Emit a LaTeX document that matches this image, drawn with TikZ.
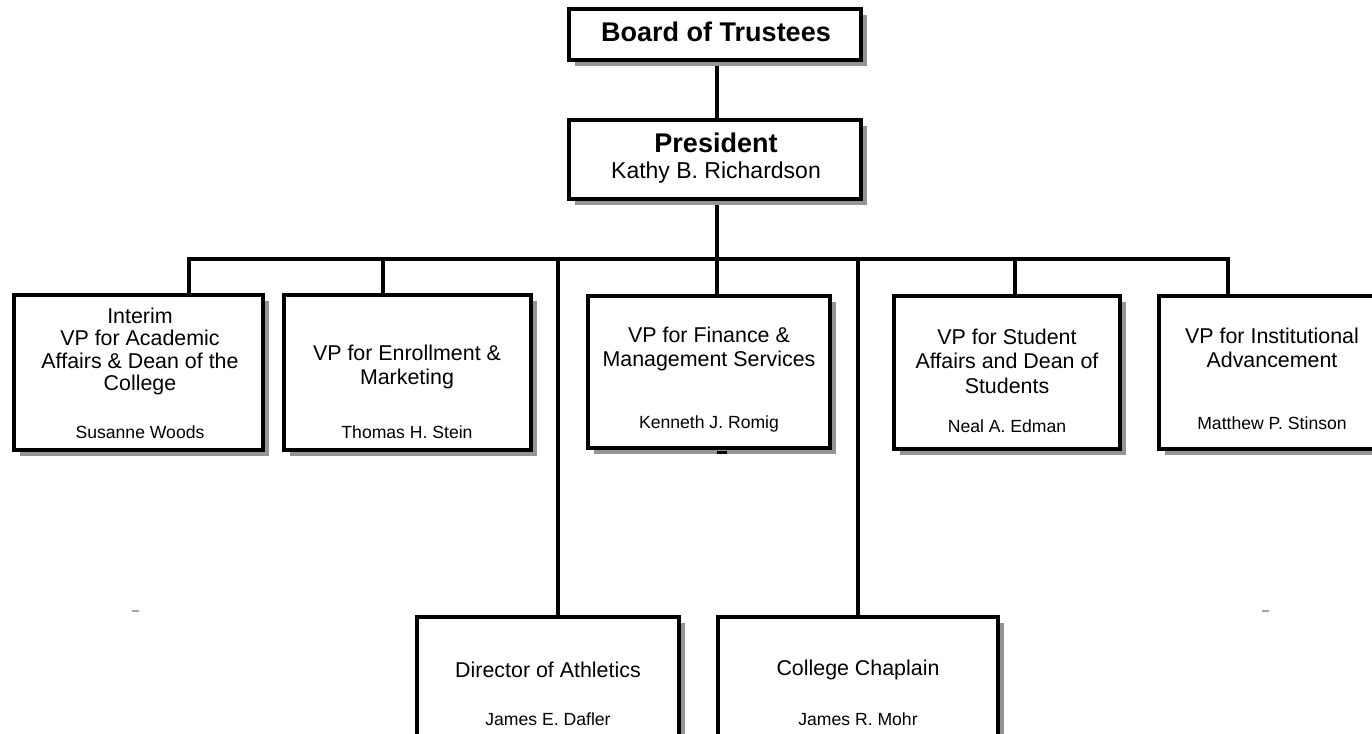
\documentclass[tikz,border=0pt]{standalone}
\usepackage{fontspec}
\setmainfont{Liberation Sans}
\usetikzlibrary{shadows}
\begin{document}
\begin{tikzpicture}[x=0.5pt,y=-0.5pt,
  orgbox/.style={draw=black, line width=2pt, fill=white, inner sep=0pt, rectangle,
    drop shadow={shadow xshift=3pt, shadow yshift=-3pt, fill=black!42, opacity=1}},
  conn/.style={draw=black, line width=2pt, line join=miter},
  txt/.style={inner sep=0pt, align=center, text=black},
  headfont/.style={font=\fontsize{13.5}{16}\selectfont\bfseries},
  presfont/.style={font=\fontsize{11.5}{14}\selectfont},
  vpfont/.style={font=\fontsize{10.7}{12.2}\selectfont},
  vponefont/.style={font=\fontsize{10.7}{11.15}\selectfont},
  namefont/.style={font=\fontsize{8.8}{10}\selectfont},
  tick/.style={draw=black!35, line width=1pt}]
\useasboundingbox (0,0) rectangle (1372,734);
\clip (0,0) rectangle (1372,734);

% connector coordinates
\coordinate (trunk) at (717,259);
\coordinate (busL) at (189,259);
\coordinate (busR) at (1228,259);
\coordinate (d2) at (383,259);
\coordinate (dA) at (558,259);
\coordinate (dB) at (858,259);
\coordinate (d4) at (1015,259);

% connectors first (boxes are drawn over their ends)
\path[conn]
  (trunk |- 0,60) -- (trunk |- 0,122)
  (trunk |- 0,198) -- (trunk) -- (trunk |- 0,296)
  (189,296) -- (busL) -- (busR) -- (1228,296)
  (d2) -- (d2 |- 0,296)
  (dA) -- (dA |- 0,618)
  (dB) -- (dB |- 0,618)
  (d4) -- (d4 |- 0,296);

% boxes
\node[orgbox, minimum width=146pt, minimum height=25.5pt] (boardbox) at (715,34.5) {};
\node[orgbox, minimum width=146pt, minimum height=39.5pt] (pres) at (715,159.5) {};
\node[orgbox, minimum width=124.5pt, minimum height=77.5pt] (b1) at (138.5,372.5) {};
\node[orgbox, minimum width=123.5pt, minimum height=77.5pt] (b2) at (407.5,372.5) {};
\node[orgbox, minimum width=121pt, minimum height=76pt] (b3) at (709,372) {};
\node[orgbox, minimum width=113pt, minimum height=76.5pt] (b4) at (1007,372.5) {};
\node[orgbox, minimum width=113.5pt, minimum height=76.5pt] (b5) at (1272.5,372.5) {};
\node[orgbox, minimum width=131pt, minimum height=91.5pt] (bA) at (548,708.5) {};
\node[orgbox, minimum width=140pt, minimum height=91.5pt] (bB) at (858,708.5) {};

% small marks
\coordinate (stubL) at (717,452);
\coordinate (stubR) at (727,452);
\draw[line width=1.5pt] (stubL) -- (stubR);
\coordinate (tk1a) at (132,611); \coordinate (tk1b) at (139,611);
\coordinate (tk2a) at (1262,611); \coordinate (tk2b) at (1269,611);
\draw[tick] (tk1a) -- (tk1b);
\draw[tick] (tk2a) -- (tk2b);

% texts
\node[txt, headfont] (tBoard) at (716,32) {Board of Trustees};
\node[txt, headfont] (tPres) at (716,143) {President};
\node[txt, presfont] (tKathy) at (716,173) {Kathy B. Richardson};

\node[txt, vponefont] (t1) at (140,351.5) {Interim\\VP for Academic\\Affairs \& Dean of the\\College};
\node[txt, namefont] (n1) at (140,432) {Susanne Woods};

\node[txt, vpfont] (t2) at (407,367) {VP for Enrollment \&\\Marketing};
\node[txt, namefont] (n2) at (407,432) {Thomas H. Stein};

\node[txt, vpfont] (t3) at (709,349) {VP for Finance \&\\Management Services};
\node[txt, namefont] (n3) at (709,424) {Kenneth J. Romig};

\node[txt, vpfont] (t4) at (1007,361) {VP for Student\\Affairs and Dean of\\Students};
\node[txt, namefont] (n4) at (1007,426) {Neal A. Edman};

\node[txt, vpfont] (t5) at (1272,348) {VP for Institutional\\Advancement};
\node[txt, namefont] (n5) at (1272,423) {Matthew P. Stinson};

\node[txt, vpfont] (tA) at (548,669.5) {Director of Athletics};
\node[txt, namefont] (nA) at (548,719) {James E. Dafler};

\node[txt, vpfont] (tB) at (858,669.5) {College Chaplain};
\node[txt, namefont] (nB) at (858,719) {James R. Mohr};
\end{tikzpicture}
\end{document}
